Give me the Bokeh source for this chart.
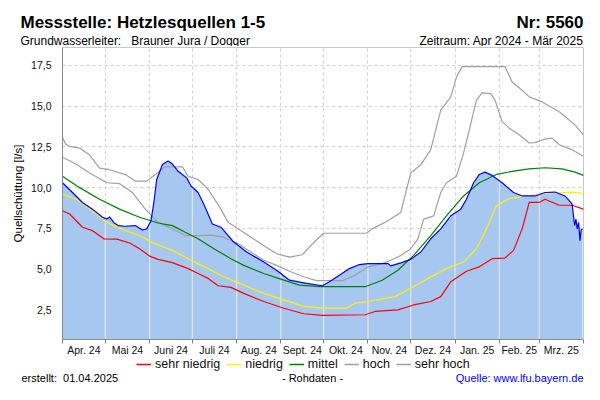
import numpy as np
from bokeh.plotting import figure
from bokeh.layouts import column
from bokeh.models import (FixedTicker, CustomJSTickFormatter, Legend,
                          LegendItem, Range1d)
from bokeh.core.properties import value
from bokeh.embed import file_html
from bokeh.resources import INLINE

# ---------------- data (days since 01.04.2024) ----------------
month_starts = [0, 30, 61, 91, 122, 153, 183, 214, 244, 275, 306, 334, 365]
month_labels = ["Apr. 24", "Mai 24", "Juni 24", "Juli 24", "Aug. 24", "Sept. 24",
                "Okt. 24", "Nov. 24", "Dez. 24", "Jan. 25", "Feb. 25", "Mrz. 25"]
y_ticks = [2.5, 5.0, 7.5, 10.0, 12.5, 15.0, 17.5]
series_names = ["sehr niedrig", "niedrig", "mittel", "hoch", "sehr hoch"]

sehr_hoch_d = [0, 2, 5, 12, 19, 26, 33, 44, 51, 59, 65, 72, 84, 88, 95, 102, 111, 116,
               123, 132, 141, 150, 159, 168, 173, 178, 183, 213, 217, 228, 237, 244,
               251, 258, 265, 272, 276, 280, 310, 315, 322, 327, 336, 348, 359, 365]
sehr_hoch_v = [13.1, 12.7, 12.53, 12.43, 12.0, 11.2, 11.1, 10.8, 10.4, 10.4, 10.8, 11.28,
               11.28, 10.7, 10.5, 9.9, 8.68, 7.87, 7.47, 6.96, 6.45, 5.94, 5.74, 5.88,
               6.35, 6.8, 7.2, 7.2, 7.47, 7.97, 8.48, 10.9, 11.4, 12.33, 14.76, 15.57,
               16.78, 17.43, 17.43, 16.48, 15.98, 15.57, 15.26, 14.66, 13.85, 13.24]

hoch_d = [0, 10, 19, 31, 40, 49, 58, 67, 77, 86, 95, 104, 113, 123, 132, 141, 150, 159,
          169, 178, 183, 196, 205, 214, 224, 230, 237, 244, 249, 253, 260, 265, 269,
          276, 281, 285, 290, 294, 300, 303, 308, 313, 320, 327, 331, 338, 343, 348,
          357, 365]
hoch_v = [11.86, 11.42, 10.9, 10.3, 10.24, 9.7, 8.68, 7.87, 7.47, 7.06, 7.06, 7.08, 6.96,
          6.55, 6.05, 5.54, 5.23, 4.87, 4.53, 4.29, 4.29, 4.29, 4.63, 5.14, 5.34, 5.54,
          5.84, 6.25, 6.86, 8.07, 8.27, 9.7, 10.3, 10.7, 12.13, 13.54, 15.37, 15.81,
          15.77, 15.37, 14.05, 13.65, 13.24, 12.74, 12.76, 12.98, 13.04, 12.63, 12.33,
          11.92]

mittel_d = [0, 12, 26, 40, 54, 67, 77, 86, 95, 106, 118, 127, 141, 155, 166, 180, 212,
            224, 235, 246, 258, 269, 281, 292, 304, 315, 327, 338, 350, 359, 365]
mittel_v = [10.7, 10.0, 9.29, 8.68, 8.18, 7.83, 7.67, 7.26, 6.86, 6.25, 5.64, 5.23, 4.73,
            4.32, 4.02, 3.92, 3.92, 4.32, 4.93, 5.84, 7.06, 8.27, 9.49, 10.3, 10.81, 11.0,
            11.15, 11.22, 11.15, 10.95, 10.75]

niedrig_d = [0, 10, 19, 31, 44, 54, 65, 77, 90, 102, 113, 127, 141, 155, 169, 182, 199,
             205, 214, 233, 244, 256, 269, 281, 290, 297, 304, 313, 325, 338, 357, 365]
niedrig_v = [9.6, 9.29, 8.68, 7.87, 7.36, 7.06, 6.55, 6.15, 5.54, 5.03, 4.53, 4.02, 3.51,
             3.11, 2.71, 2.6, 2.6, 2.91, 3.01, 3.31, 3.82, 4.43, 5.03, 5.44, 6.25, 7.47,
             8.88, 9.33, 9.49, 9.64, 9.73, 9.64]

sehr_niedrig_d = [0, 5, 14, 21, 29, 38, 47, 54, 61, 67, 77, 88, 95, 102, 109, 118, 127,
                  141, 155, 169, 182, 212, 219, 235, 246, 258, 265, 272, 283, 292, 301,
                  310, 316, 322, 327, 334, 338, 348, 357, 365]
sehr_niedrig_v = [8.58, 8.38, 7.57, 7.36, 6.86, 6.84, 6.6, 6.25, 5.8, 5.6, 5.4, 5.03, 4.73,
                  4.43, 3.98, 3.88, 3.51, 3.01, 2.6, 2.26, 2.16, 2.2, 2.4, 2.5, 2.8, 3.01,
                  3.31, 4.22, 4.87, 5.14, 5.64, 5.68, 6.15, 7.47, 9.09, 9.09, 9.29, 8.92,
                  8.92, 8.68]

mess_d = [0, 7, 14, 21, 28, 31, 33, 36, 39, 44, 51, 56, 59, 62, 64, 66, 70, 74, 77, 81,
          84, 87, 90, 95, 99, 105, 111, 120, 129, 141, 150, 159, 171, 182, 187, 194, 201,
          208, 214, 228, 230, 237, 244, 251, 258, 265, 272, 279, 283, 288, 292, 296, 301,
          308, 316, 322, 331, 338, 345, 352, 357, 358.8, 359.7, 360.6, 361.6, 362.5,
          363.4, 364.3]
mess_v = [10.3, 9.7, 9.09, 8.68, 8.18, 8.07, 8.2, 7.85, 7.67, 7.63, 7.67, 7.4, 7.47, 7.97,
          9.09, 10.5, 11.42, 11.64, 11.45, 11.0, 10.8, 10.6, 10.1, 9.7, 8.98, 7.77, 7.57,
          6.66, 6.05, 5.44, 4.93, 4.32, 4.12, 3.98, 4.22, 4.63, 5.03, 5.28, 5.34, 5.34,
          5.2, 5.38, 5.6, 6.05, 6.86, 7.47, 8.27, 8.68, 9.29, 10.3, 10.81, 10.95, 10.75,
          10.3, 9.7, 9.49, 9.49, 9.7, 9.73, 9.49, 9.0, 7.67, 8.07, 7.47, 7.87, 6.75,
          7.42, 7.47]

FONT = "Liberation Sans"
W = 584
COLORS = {"sehr niedrig": "#ff0000", "niedrig": "#fff000", "mittel": "#008000",
          "hoch": "#a0a0a0", "sehr hoch": "#a0a0a0"}


def text_strip(h):
    """A borderless figure used as a text band (pixel coordinates, y downwards)."""
    f = figure(width=W, height=h, output_backend="svg", toolbar_location=None,
               x_range=Range1d(0, W), y_range=Range1d(h, 0),
               x_axis_type=None, y_axis_type=None,
               min_border_left=0, min_border_right=0, min_border_top=0,
               min_border_bottom=0, outline_line_color=None,
               background_fill_color="white", border_fill_color="white")
    f.frame_align = False
    f.grid.visible = False
    return f


def put(f, x, y, txt, size, align="left", bold=False, color="#000000",
        baseline="alphabetic"):
    f.text(x=[x], y=[y], text=[txt], text_font=value(FONT), text_font_size=size,
           text_align=align, text_baseline=baseline, text_color=color,
           text_font_style="bold" if bold else "normal")


# ---------------- header ----------------
head = text_strip(46)
put(head, 20, 22, "Messstelle: Hetzlesquellen 1-5", "17px", bold=True)
put(head, 583, 22, "Nr: 5560", "17px", align="right", bold=True)
put(head, 20, 40, "Grundwasserleiter:\u00a0\u00a0 Brauner Jura / Dogger", "12px")
put(head, 583, 40, "Zeitraum: Apr 2024 - M\u00e4r 2025", "12px", align="right")

# ---------------- main chart ----------------
Y0, Y1 = 0.68, 18.6
p = figure(width=W, height=312, output_backend="svg", toolbar_location=None,
           x_range=Range1d(0, 365), y_range=Range1d(Y0, Y1),
           min_border_left=62, min_border_right=1, min_border_top=1,
           min_border_bottom=16, background_fill_color="white",
           border_fill_color="white")
p.frame_align = False
p.outline_line_color = "#c8c8c8"

mids = [(a + b) / 2 for a, b in zip(month_starts[:-1], month_starts[1:])]
p.xaxis.ticker = FixedTicker(ticks=mids, minor_ticks=month_starts)
p.xaxis.formatter = CustomJSTickFormatter(args=dict(mids=mids, labels=month_labels), code="""
let best = 0, d = 1e9;
for (let i = 0; i < mids.length; i++) { const e = Math.abs(mids[i] - tick); if (e < d) { d = e; best = i; } }
return labels[best];
""")
p.xaxis.major_tick_out = 0
p.xaxis.major_tick_in = 0
p.xaxis.minor_tick_out = 4
p.xaxis.minor_tick_in = 0
p.xaxis.minor_tick_line_color = "#808080"
p.xaxis.axis_line_color = "#8a8a8a"
p.xaxis.major_label_standoff = 0
p.xaxis.major_label_text_font = FONT
p.xaxis.major_label_text_font_size = "10.5px"
p.xaxis.major_label_text_color = "#111111"

p.yaxis.ticker = FixedTicker(ticks=y_ticks)
p.yaxis.formatter = CustomJSTickFormatter(code="return tick.toFixed(1).replace('.', ',');")
p.yaxis.major_tick_out = 0
p.yaxis.major_tick_in = 0
p.yaxis.minor_tick_out = 0
p.yaxis.minor_tick_in = 0
p.yaxis.axis_line_color = "#8a8a8a"
p.yaxis.major_label_standoff = 11
p.yaxis.major_label_text_font = FONT
p.yaxis.major_label_text_font_size = "10.5px"
p.yaxis.major_label_text_color = "#111111"
p.yaxis.axis_label = "Quellsch\u00fcttung [l/s]"
p.yaxis.axis_label_standoff = 4
p.yaxis.axis_label_text_font = FONT
p.yaxis.axis_label_text_font_size = "11.5px"
p.yaxis.axis_label_text_font_style = "normal"
p.yaxis.axis_label_text_color = "#000000"

p.xgrid.ticker = FixedTicker(ticks=month_starts[1:-1])
for g in (p.xgrid, p.ygrid):
    g.grid_line_color = "#d2d2d2"
    g.grid_line_dash = "3 3"
    g.grid_line_width = 1

# measured discharge as filled area
p.varea(x=mess_d, y1=[Y0 - 1] * len(mess_d), y2=mess_v, fill_color="#a6c8f0")
# light month lines inside the area
inner = month_starts[1:-1]
tops = list(np.interp(inner, mess_d, mess_v))
p.segment(x0=inner, y0=[Y0 - 1] * len(inner), x1=inner, y1=tops,
          line_color="#e4e4e0", line_width=1.2)

LW = 1.2
p.line(sehr_hoch_d, sehr_hoch_v, line_color=COLORS["sehr hoch"], line_width=LW)
p.line(hoch_d, hoch_v, line_color=COLORS["hoch"], line_width=LW)
p.line(mittel_d, mittel_v, line_color=COLORS["mittel"], line_width=LW)
p.line(niedrig_d, niedrig_v, line_color=COLORS["niedrig"], line_width=LW)
p.line(sehr_niedrig_d, sehr_niedrig_v, line_color=COLORS["sehr niedrig"], line_width=LW)
p.line(mess_d, mess_v, line_color="#0000ff", line_width=LW)

# ---------------- legend + footer ----------------
FH = 26
foot = text_strip(FH)
items = []
for name in series_names:
    # legend swatch renderer (no visible data in the strip)
    r = foot.line(x=[np.nan, np.nan], y=[np.nan, np.nan], line_color=COLORS[name],
                  line_width=1.5)
    items.append(LegendItem(label=name, renderers=[r]))
legend = Legend(items=items, location=(136, 13), orientation="horizontal",
                border_line_alpha=0, background_fill_alpha=0, padding=0, margin=0,
                spacing=6, glyph_width=15, glyph_height=12, label_standoff=4,
                label_height=12, label_text_font=FONT, label_text_font_size="12.5px",
                label_text_color="#111111")
foot.add_layout(legend)

put(foot, 21, 19, "erstellt:\u00a0 01.04.2025", "11px", baseline="middle")
put(foot, 312, 19, "- Rohdaten -", "11px", align="center", baseline="middle")
put(foot, 583, 19, "Quelle: www.lfu.bayern.de", "11px", align="right", color="#0000ff",
    baseline="middle")

page = column(head, p, foot, spacing=0)
open("out.html", "w").write(file_html(page, INLINE))
